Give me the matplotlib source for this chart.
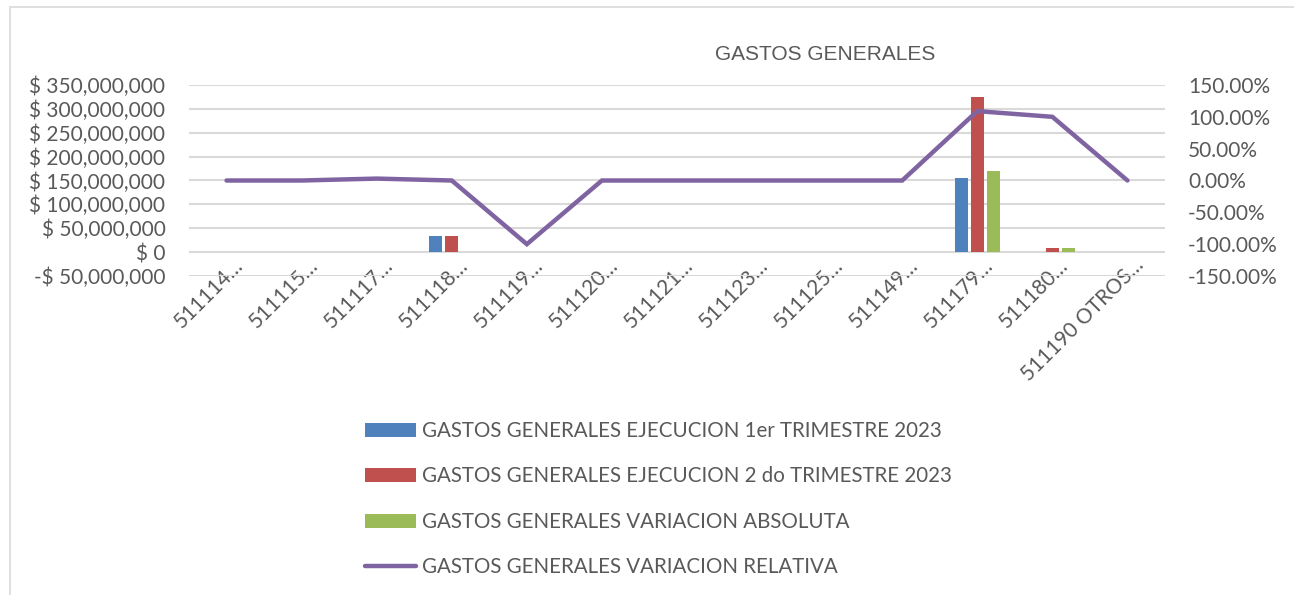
import numpy as np
import matplotlib.pyplot as plt
from matplotlib.patches import Rectangle
from matplotlib.ticker import FuncFormatter
from matplotlib.transforms import ScaledTranslation

plt.rcParams['font.family'] = ['Lato', 'DejaVu Sans']

categorias = ['511114…', '511115…', '511117…', '511118…', '511119…',
              '511120…', '511121…', '511123…', '511125…', '511149…',
              '511179…', '511180…', '511190 OTROS…']

trim1 = [0, 0, 1e6, 34e6, 0, 0, 0, 0, 0, 0, 155e6, 0, 0]
trim2 = [0, 0, 1e6, 34e6, 0, 0, 0, 0, 0, 0, 324e6, 8e6, 0]
var_abs = [0, 0, 0, 0, 0, 0, 0, 0, 0, 0, 169e6, 8e6, 0]
var_rel = [0, 0, 0.03, 0, -1.0, 0, 0, 0, 0, 0, 1.09, 1.0, 0]

labels = ['GASTOS GENERALES EJECUCION 1er TRIMESTRE 2023',
          'GASTOS GENERALES EJECUCION 2 do TRIMESTRE 2023',
          'GASTOS GENERALES VARIACION ABSOLUTA',
          'GASTOS GENERALES VARIACION RELATIVA']

gris = '#595959'
azul, rojo, verde, morado = '#4F81BD', '#C0504D', '#9BBB59', '#8064A2'

fig = plt.figure(figsize=(12.94, 5.95), dpi=100)
ax = fig.add_axes([189/1294, 1 - 276/595, (1165 - 189)/1294, (276 - 85)/595])

x = np.arange(len(categorias))
w = 0.17
off = 0.215
ax.bar(x - off, trim1, w, color=azul, label=labels[0], zorder=3)
ax.bar(x, trim2, w, color=rojo, label=labels[1], zorder=3)
ax.bar(x + off, var_abs, w, color=verde, label=labels[2], zorder=3)

ax.set_xlim(-0.5, len(categorias) - 0.5)
ax.set_ylim(-50e6, 350e6)
ax.set_yticks(np.arange(-50e6, 350e6 + 1, 50e6))

def pesos(v, pos):
    if v < 0:
        return '-$ {:,.0f}'.format(-v)
    return '$ {:,.0f}'.format(v)

ax.yaxis.set_major_formatter(FuncFormatter(pesos))
ax.grid(axis='y', color='#D9D9D9', lw=1.5, zorder=0)
for s in ax.spines.values():
    s.set_visible(False)
ax.tick_params(axis='both', length=0, colors=gris, labelsize=15)
ax.tick_params(axis='y', pad=17)
ax.set_xticks(x)
ax.set_xticklabels(categorias, rotation=45, ha='right', va='top',
                   rotation_mode='anchor')
ax.tick_params(axis='x', pad=0)
# Excel pone el final del texto justo a la altura del eje
desplaza = ScaledTranslation(6/100, 21/100, fig.dpi_scale_trans)
for t in ax.get_xticklabels():
    t.set_transform(t.get_transform() + desplaza)

ax2 = ax.twinx()
ax2.plot(x, var_rel, color=morado, lw=3.2, solid_capstyle='round',
         solid_joinstyle='miter', label=labels[3], zorder=4)
ax2.set_ylim(-1.5, 1.5)
ax2.set_yticks(np.arange(-1.5, 1.51, 0.5))
ax2.yaxis.set_major_formatter(FuncFormatter(lambda v, p: '{:.2f}%'.format(v * 100)))
for s in ax2.spines.values():
    s.set_visible(False)
ax2.tick_params(axis='y', length=0, colors=gris, labelsize=15, pad=16.5)
ax.set_zorder(ax2.get_zorder() - 1)
ax.patch.set_visible(False)

fig.text(825/1294, 1 - 54/595, 'GASTOS GENERALES', ha='center', va='center',
         color=gris, fontsize=15, family=['Liberation Sans', 'DejaVu Sans'])

h1, l1 = ax.get_legend_handles_labels()
h2, l2 = ax2.get_legend_handles_labels()
fig.legend(h1 + h2, l1 + l2, loc='upper left', bbox_to_anchor=(365/1294, 1 - 421/595),
           frameon=False, fontsize=14.8, labelcolor=gris, handlelength=2.48,
           handletextpad=0.29, labelspacing=1.24, borderpad=0, borderaxespad=0)

fig.patches.append(Rectangle((10/1294, -0.05), 1.2, 1 - 7/595 + 0.05,
                             transform=fig.transFigure, fill=False,
                             edgecolor='#D9D9D9', lw=1.2))

fig.savefig('out.png', dpi=100)
